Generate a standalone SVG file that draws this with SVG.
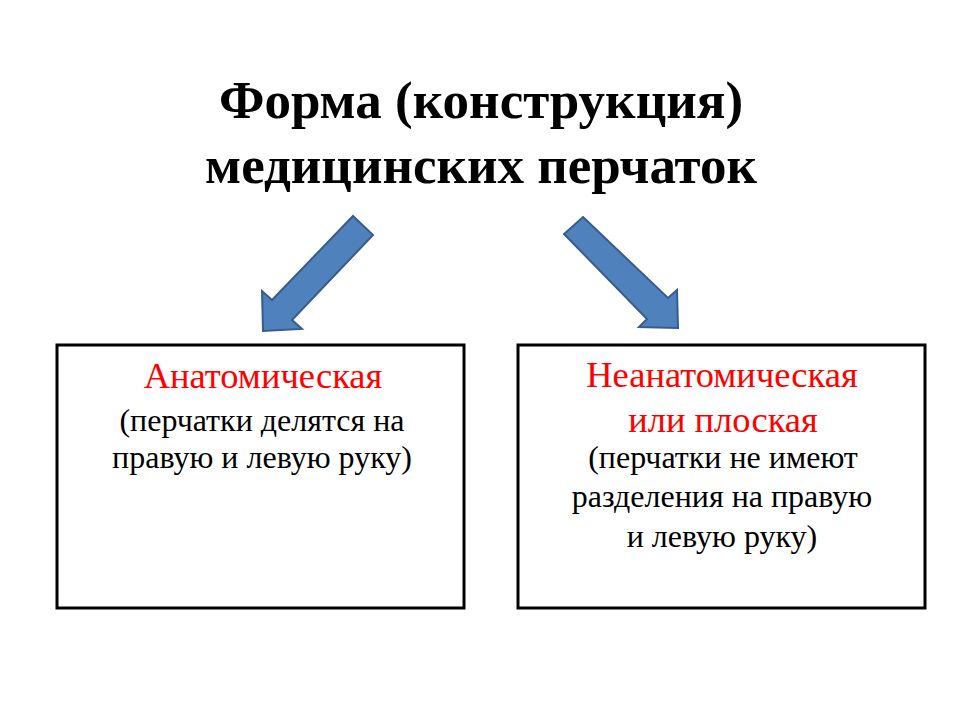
<svg xmlns="http://www.w3.org/2000/svg" width="960" height="720" viewBox="0 0 960 720">
<style>
.title{font-family:"Liberation Serif","Times New Roman",serif;font-weight:bold;font-size:53px;fill:#000;text-anchor:middle}
.box{fill:#fff;stroke:#000;stroke-width:3}
.head{font-family:"Liberation Serif","Times New Roman",serif;font-size:36.5px;fill:#ff0000;text-anchor:middle}
.body{font-family:"Liberation Serif","Times New Roman",serif;font-size:32px;fill:#000;text-anchor:middle}
.arrow{fill:#4f81bd;stroke:#385d8a;stroke-width:2;stroke-linejoin:miter}
</style>
<rect width="960" height="720" fill="#fff"/>
<g id="title">
<text class="title" x="481" y="118">Форма (конструкция)</text>
<text class="title" x="481" y="183">медицинских перчаток</text>
</g>
<g id="connectors">
<polygon class="arrow" points="353,216 373,235 292,320 302,329 263,331 262,291 272,300"/>
<polygon class="arrow" points="583,217 668,298 677,290 678,328 639,327 647,319 564,234"/>
</g>
<g id="anatomical">
<rect class="box" x="57" y="345" width="407" height="263"/>
<text class="head" x="263" y="388">Анатомическая</text>
<text class="body" x="262" y="431">(перчатки делятся на</text>
<text class="body" x="262" y="468">правую и левую руку)</text>
</g>
<g id="nonanatomical">
<rect class="box" x="518" y="345" width="407" height="263"/>
<text class="head" x="722" y="387">Неанатомическая</text>
<text class="head" x="723" y="432">или плоская</text>
<text class="body" x="723" y="468">(перчатки не имеют</text>
<text class="body" x="722" y="507">разделения на правую</text>
<text class="body" x="722" y="547">и левую руку)</text>
</g>
</svg>
